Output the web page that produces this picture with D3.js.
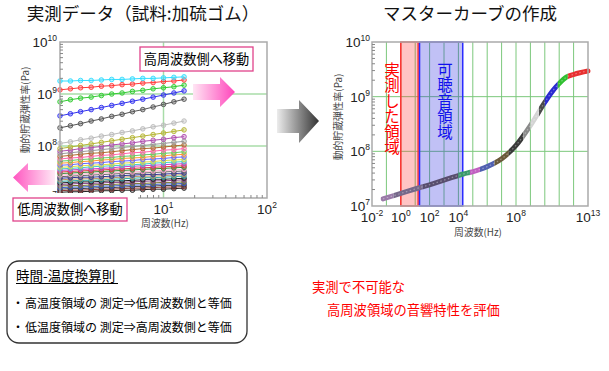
<!DOCTYPE html>
<html>
<head>
<meta charset="utf-8">
<script src="https://cdn.jsdelivr.net/npm/d3@7"></script>
<style>
    body { margin: 0; background: #fff; }
    svg { display: block; }
    text { font-family: "Noto Sans CJK JP", sans-serif; }
    .num { font-family: "Liberation Sans", Arial, sans-serif; fill: #222; }
</style>
</head>
<body>
<svg id="chart" width="609" height="371"></svg>
<script>
// measured data: frequency (Hz) and log10 of storage modulus (Pa), one row per temperature
let measFreq = [1, 1.26, 1.58, 2, 2.51, 3.16, 3.98, 5.01, 6.31, 7.94, 10, 12.6, 15.8];

let measColors = ["#33ddff", "#ff3b3b", "#33cc33", "#3333ee", "#555555", "#bbbbbb",
    "#b5b535", "#b050b0", "#999999", "#b06a30", "#ff66aa", "#66cc66", "#ff9933", "#6666ff",
    "#dddd44", "#44cccc", "#cc44cc", "#dd4444", "#338833", "#ffaacc", "#666666", "#333399",
    "#bb9966", "#33aaaa", "#222222", "#884488", "#777733", "#3355cc", "#444444", "#883333", "#222222"];

let measLogE = [
    [9.25, 9.25, 9.26, 9.26, 9.27, 9.28, 9.28, 9.29, 9.30, 9.30, 9.31, 9.32, 9.33],
    [9.08, 9.10, 9.12, 9.13, 9.15, 9.16, 9.18, 9.19, 9.21, 9.22, 9.24, 9.25, 9.27],
    [8.85, 8.89, 8.92, 8.94, 8.97, 9.00, 9.02, 9.05, 9.07, 9.10, 9.12, 9.14, 9.17],
    [8.58, 8.62, 8.66, 8.70, 8.74, 8.78, 8.82, 8.86, 8.90, 8.94, 8.98, 9.02, 9.06],
    [8.35, 8.39, 8.43, 8.48, 8.52, 8.57, 8.61, 8.66, 8.70, 8.75, 8.80, 8.85, 8.90],
    [8.05, 8.08, 8.12, 8.15, 8.19, 8.22, 8.26, 8.29, 8.33, 8.37, 8.40, 8.44, 8.48],
    [7.95, 7.98, 8.01, 8.04, 8.07, 8.10, 8.13, 8.16, 8.19, 8.22, 8.25, 8.28, 8.31],
    [7.90, 7.92, 7.95, 7.97, 7.99, 8.02, 8.04, 8.06, 8.09, 8.11, 8.13, 8.16, 8.18],
    [7.85, 7.87, 7.89, 7.91, 7.93, 7.95, 7.97, 7.99, 8.01, 8.03, 8.05, 8.07, 8.09],
    [7.80, 7.82, 7.84, 7.86, 7.87, 7.89, 7.91, 7.93, 7.95, 7.96, 7.98, 8.00, 8.02],
    [7.75, 7.77, 7.78, 7.80, 7.82, 7.83, 7.85, 7.87, 7.88, 7.90, 7.92, 7.93, 7.95],
    [7.71, 7.72, 7.74, 7.75, 7.77, 7.78, 7.80, 7.81, 7.83, 7.84, 7.86, 7.87, 7.89],
    [7.67, 7.68, 7.70, 7.71, 7.73, 7.74, 7.76, 7.77, 7.78, 7.80, 7.81, 7.83, 7.84],
    [7.63, 7.64, 7.66, 7.67, 7.68, 7.70, 7.71, 7.72, 7.74, 7.75, 7.76, 7.78, 7.79],
    [7.59, 7.60, 7.62, 7.63, 7.64, 7.65, 7.67, 7.68, 7.69, 7.70, 7.72, 7.73, 7.74],
    [7.56, 7.57, 7.58, 7.60, 7.61, 7.62, 7.63, 7.64, 7.65, 7.67, 7.68, 7.69, 7.70],
    [7.53, 7.54, 7.55, 7.56, 7.57, 7.58, 7.60, 7.61, 7.62, 7.63, 7.64, 7.65, 7.66],
    [7.50, 7.51, 7.52, 7.53, 7.54, 7.55, 7.56, 7.57, 7.58, 7.59, 7.60, 7.61, 7.62],
    [7.47, 7.48, 7.49, 7.50, 7.51, 7.52, 7.53, 7.54, 7.55, 7.56, 7.57, 7.58, 7.59],
    [7.44, 7.45, 7.46, 7.47, 7.48, 7.49, 7.50, 7.50, 7.51, 7.52, 7.53, 7.54, 7.55],
    [7.41, 7.42, 7.43, 7.44, 7.45, 7.46, 7.47, 7.47, 7.48, 7.49, 7.50, 7.51, 7.52],
    [7.38, 7.39, 7.40, 7.40, 7.41, 7.42, 7.43, 7.44, 7.45, 7.45, 7.46, 7.47, 7.48],
    [7.35, 7.36, 7.37, 7.37, 7.38, 7.39, 7.40, 7.41, 7.42, 7.42, 7.43, 7.44, 7.45],
    [7.32, 7.33, 7.34, 7.34, 7.35, 7.36, 7.37, 7.38, 7.39, 7.39, 7.40, 7.41, 7.42],
    [7.29, 7.30, 7.31, 7.31, 7.32, 7.33, 7.33, 7.34, 7.35, 7.36, 7.36, 7.37, 7.38],
    [7.26, 7.27, 7.28, 7.28, 7.29, 7.30, 7.30, 7.31, 7.32, 7.33, 7.33, 7.34, 7.35],
    [7.23, 7.24, 7.24, 7.25, 7.26, 7.26, 7.27, 7.28, 7.28, 7.29, 7.30, 7.30, 7.31],
    [7.20, 7.21, 7.21, 7.22, 7.23, 7.23, 7.24, 7.25, 7.25, 7.26, 7.27, 7.27, 7.28],
    [7.17, 7.18, 7.18, 7.19, 7.20, 7.20, 7.21, 7.22, 7.22, 7.23, 7.24, 7.24, 7.25],
    [7.14, 7.15, 7.15, 7.16, 7.17, 7.17, 7.18, 7.19, 7.19, 7.20, 7.21, 7.21, 7.22],
    [7.11, 7.12, 7.12, 7.13, 7.14, 7.14, 7.15, 7.15, 7.16, 7.17, 7.17, 7.18, 7.19]
];

// master curve (log10 Hz, log10 Pa)
let masterLogF = [-1.24, 0, 1.1, 2.26, 3.42, 4.34, 5.03, 6.0, 7.03, 8.0, 9.02, 10.03, 10.59, 11.0, 11.52, 12.03, 13.0];
let masterLogE = [7.13, 7.23, 7.32, 7.41, 7.51, 7.585, 7.63, 7.72, 7.87, 8.11, 8.48, 8.91, 9.12, 9.24, 9.36, 9.41, 9.47];

// colour pieces along the master curve (log10 Hz edges)
let segEdges = [-1.4, -0.5, 1.5, 4, 4.8, 5.5, 6.5, 7.5, 8.5, 9.0, 9.6, 10.0, 10.9, 11.6, 13.2];
let segColors = ["#9a7aa8", "#76688a", "#584e6e", "#3a9a6a", "#c060c0", "#5060b0", "#6a5a3a",
    "#3a3a3a", "#8a8a8a", "#d4d4d4", "#4a4a4a", "#2a2ad0", "#30c030", "#e83030"];

let yTickExp = [7, 8, 9, 10];
let leftXTickExp = [1, 2];
let rightXTickExp = [-2, 0, 2, 4, 8, 13];

let svg = d3.select('#chart');
let defs = svg.append('defs');

function powLabel(g, x, y, exp, anchor) {
    let t = g.append('text').attr('class', 'num')
        .attr('x', x).attr('y', y)
        .attr('font-size', 13.5)
        .attr('text-anchor', anchor);
    t.append('tspan').text('10');
    t.append('tspan').attr('dy', -6).attr('font-size', 8.5).text(exp);
}

// ---------------- left chart ----------------
let xL = d3.scaleLog().domain([1, 100]).range([60, 267]);
let yL = d3.scaleLog().domain([1e7, 1e10]).range([198, 42]);
let left = svg.append('g');

left.selectAll('line.hgrid').data([1e8, 1e9]).enter().append('line')
    .attr('x1', 60).attr('x2', 267)
    .attr('y1', d => yL(d)).attr('y2', d => yL(d))
    .style('stroke', '#a8dca8').style('stroke-width', 1.5);
left.append('line')
    .attr('x1', xL(10)).attr('x2', xL(10)).attr('y1', 42).attr('y2', 198)
    .style('stroke', '#a8dca8').style('stroke-width', 1.5);

let lineL = d3.line().x((d, i) => xL(measFreq[i])).y(d => yL(Math.pow(10, d)));
left.selectAll('g.series').data(measLogE.slice().reverse()).enter()
    .append('g').attr('class', 'series')
    .each(function (d, k) {
        let col = measColors[measLogE.length - 1 - k];
        let g = d3.select(this);
        g.append('path').attr('d', lineL(d))
            .style('fill', 'none').style('stroke', col).style('stroke-width', 1);
        g.selectAll('circle').data(d).enter().append('circle')
            .attr('cx', (v, i) => xL(measFreq[i]))
            .attr('cy', v => yL(Math.pow(10, v)))
            .attr('r', 2.3)
            .style('fill', col).style('fill-opacity', 0.35)
            .style('stroke', col).style('stroke-width', 0.9);
    });

left.append('rect').attr('x', 60).attr('y', 42).attr('width', 207).attr('height', 156)
    .style('fill', 'none').style('stroke', '#aaa').style('stroke-width', 1.5);

// minor ticks
let minorY = [];
[7, 8, 9].forEach(n => d3.range(2, 10).forEach(k => minorY.push(k * Math.pow(10, n))));
left.selectAll('line.my').data(minorY).enter().append('line')
    .attr('x1', 60).attr('x2', 63).attr('y1', d => yL(d)).attr('y2', d => yL(d))
    .style('stroke', '#888').style('stroke-width', 1);
let minorX = [];
[0, 1].forEach(n => d3.range(2, 10).forEach(k => minorX.push(k * Math.pow(10, n))));
left.selectAll('line.mx').data(minorX).enter().append('line')
    .attr('x1', d => xL(d)).attr('x2', d => xL(d)).attr('y1', 198).attr('y2', 195)
    .style('stroke', '#888').style('stroke-width', 1);

yTickExp.forEach(e => powLabel(left, 57, yL(Math.pow(10, e)) + 5, e, 'end'));
leftXTickExp.forEach(e => powLabel(left, xL(Math.pow(10, e)), 214, e, 'middle'));

left.append('text').attr('transform', 'translate(29,110) rotate(-90)')
    .attr('text-anchor', 'middle').attr('font-size', 9.8).style('fill', '#444')
    .text('動的貯蔵弾性率(Pa)');
left.append('text').attr('x', 165).attr('y', 227)
    .attr('text-anchor', 'middle').attr('font-size', 9.8).style('fill', '#444')
    .text('周波数(Hz)');

// pink arrows
let gradR = defs.append('linearGradient').attr('id', 'pinkR');
gradR.append('stop').attr('offset', '0%').attr('stop-color', '#ffe6f4');
gradR.append('stop').attr('offset', '100%').attr('stop-color', '#ff44bb');
let gradL = defs.append('linearGradient').attr('id', 'pinkL');
gradL.append('stop').attr('offset', '0%').attr('stop-color', '#ff55c0');
gradL.append('stop').attr('offset', '100%').attr('stop-color', '#ffeaf6');

svg.append('polygon')
    .attr('points', '193,84 220,84 220,77 235,92 220,107 220,100 193,100')
    .style('fill', 'url(#pinkR)');
svg.append('polygon')
    .attr('points', '13,177.5 28,163 28,170 55,170 55,185 28,185 28,192')
    .style('fill', 'url(#pinkL)');

// white area under the lower box
svg.append('rect').attr('x', 8).attr('y', 193).attr('width', 130).attr('height', 30).style('fill', '#fff');

function noteBox(x, y, w, h, label) {
    svg.append('rect').attr('x', x).attr('y', y).attr('width', w).attr('height', h)
        .style('fill', '#fff').style('stroke', '#e0428a').style('stroke-width', 1.3);
    svg.append('text').attr('x', x + w / 2).attr('y', y + h / 2 + 4.8)
        .attr('text-anchor', 'middle').attr('font-size', 13.2).style('fill', '#000')
        .text(label);
}
noteBox(140, 47, 113, 24, '高周波数側へ移動');
noteBox(13, 198, 114, 23, '低周波数側へ移動');

// ---------------- gray arrow ----------------
let gradG = defs.append('linearGradient').attr('id', 'grayArrow');
gradG.append('stop').attr('offset', '0%').attr('stop-color', '#ececec');
gradG.append('stop').attr('offset', '100%').attr('stop-color', '#333');
svg.append('polygon')
    .attr('points', '277,109 299,109 299,100 319,121 299,143 299,133 277,133')
    .style('fill', 'url(#grayArrow)');

// ---------------- right chart ----------------
let xR = d3.scaleLog().domain([1e-2, 1e13]).range([372, 588]);
let yR = d3.scaleLog().domain([1e7, 1e10]).range([206, 42]);
let right = svg.append('g');

right.selectAll('line.vgrid').data(d3.range(-1, 13)).enter().append('line')
    .attr('x1', d => xR(Math.pow(10, d))).attr('x2', d => xR(Math.pow(10, d)))
    .attr('y1', 42).attr('y2', 206)
    .style('stroke', '#7cc87c').style('stroke-width', 1);
right.selectAll('line.hgrid').data([1e8, 1e9]).enter().append('line')
    .attr('x1', 372).attr('x2', 588).attr('y1', d => yR(d)).attr('y2', d => yR(d))
    .style('stroke', '#7cc87c').style('stroke-width', 1);

// measured band (1-16 Hz) and audible band (20 Hz-20 kHz)
right.append('rect')
    .attr('x', xR(1)).attr('y', 42).attr('width', xR(16) - xR(1)).attr('height', 164)
    .style('fill', 'rgba(255,60,60,0.3)').style('stroke', '#ff3030').style('stroke-width', 1.5);
right.append('rect')
    .attr('x', xR(20)).attr('y', 42).attr('width', xR(20000) - xR(20)).attr('height', 164)
    .style('fill', 'rgba(40,40,225,0.29)').style('stroke', '#2a2aff').style('stroke-width', 1.5);

let masterPts = masterLogF.map((f, i) => [xR(Math.pow(10, f)), yR(Math.pow(10, masterLogE[i]))]);
let lineR = d3.line().curve(d3.curveMonotoneX);
segColors.forEach((c, i) => {
    let id = 'seg' + i;
    defs.append('clipPath').attr('id', id).append('rect')
        .attr('x', xR(Math.pow(10, segEdges[i]))).attr('y', 30)
        .attr('width', xR(Math.pow(10, segEdges[i + 1])) - xR(Math.pow(10, segEdges[i])))
        .attr('height', 190);
    right.append('path').attr('d', lineR(masterPts))
        .attr('clip-path', 'url(#' + id + ')')
        .style('fill', 'none').style('stroke', c).style('stroke-width', 5)
        .style('stroke-linecap', 'round');
});
right.append('path').attr('d', lineR(masterPts))
    .style('fill', 'none').style('stroke', '#fff').style('stroke-opacity', 0.35)
    .style('stroke-width', 1.2).style('stroke-dasharray', '1.5,2.5');

right.append('rect').attr('x', 372).attr('y', 42).attr('width', 216).attr('height', 164)
    .style('fill', 'none').style('stroke', '#aaa').style('stroke-width', 1.5);
let minorYR = [];
[7, 8, 9].forEach(n => d3.range(2, 10).forEach(k => minorYR.push(k * Math.pow(10, n))));
right.selectAll('line.my').data(minorYR).enter().append('line')
    .attr('x1', 372).attr('x2', 375).attr('y1', d => yR(d)).attr('y2', d => yR(d))
    .style('stroke', '#888').style('stroke-width', 1);

yTickExp.forEach(e => powLabel(right, 370, yR(Math.pow(10, e)) + 5, e, 'end'));
rightXTickExp.forEach(e => powLabel(right, xR(Math.pow(10, e)), 222, e, 'middle'));

right.append('text').attr('transform', 'translate(342,117) rotate(-90)')
    .attr('text-anchor', 'middle').attr('font-size', 9.8).style('fill', '#444')
    .text('動的貯蔵弾性率(Pa)');
right.append('text').attr('x', 478).attr('y', 236)
    .attr('text-anchor', 'middle').attr('font-size', 9.8).style('fill', '#444')
    .text('周波数(Hz)');

right.append('text').attr('x', 392).attr('y', 62)
    .style('writing-mode', 'vertical-rl').attr('font-size', 15.5).style('fill', '#ff0000')
    .text('実測した領域');
right.append('text').attr('x', 445).attr('y', 62)
    .style('writing-mode', 'vertical-rl').attr('font-size', 15.5).style('fill', '#1010ee')
    .text('可聴音領域');

// ---------------- titles ----------------
svg.append('text').attr('x', 143).attr('y', 20).attr('text-anchor', 'middle')
    .attr('font-size', 17.5).style('fill', '#111').text('実測データ（試料:加硫ゴム）');
svg.append('text').attr('x', 470).attr('y', 20).attr('text-anchor', 'middle')
    .attr('font-size', 17.5).style('fill', '#111').text('マスターカーブの作成');

// ---------------- bottom notes ----------------
svg.append('rect').attr('x', 7).attr('y', 261).attr('width', 240).attr('height', 82)
    .attr('rx', 12).attr('ry', 12)
    .style('fill', '#fff').style('stroke', '#333').style('stroke-width', 1.3);
svg.append('text').attr('x', 16).attr('y', 281).attr('font-size', 13.5).style('fill', '#000')
    .text('時間-温度換算則');
svg.append('line').attr('x1', 16).attr('x2', 118).attr('y1', 283.5).attr('y2', 283.5)
    .style('stroke', '#000').style('stroke-width', 1);

let bullets = ['高温度領域の 測定⇒低周波数側と等価', '低温度領域の 測定⇒高周波数側と等価'];
bullets.forEach((b, i) => {
    svg.append('text').attr('x', 12).attr('y', 308 + i * 24).attr('font-size', 12).style('fill', '#000')
        .text('・');
    svg.append('text').attr('x', 25).attr('y', 308 + i * 24).attr('font-size', 12).style('fill', '#000')
        .text(b);
});

svg.append('text').attr('x', 312).attr('y', 292).attr('font-size', 13.3).style('fill', '#ff0000')
    .text('実測で不可能な');
svg.append('text').attr('x', 327).attr('y', 315).attr('font-size', 13.3).style('fill', '#ff0000')
    .text('高周波領域の音響特性を評価');
</script>
</body>
</html>
